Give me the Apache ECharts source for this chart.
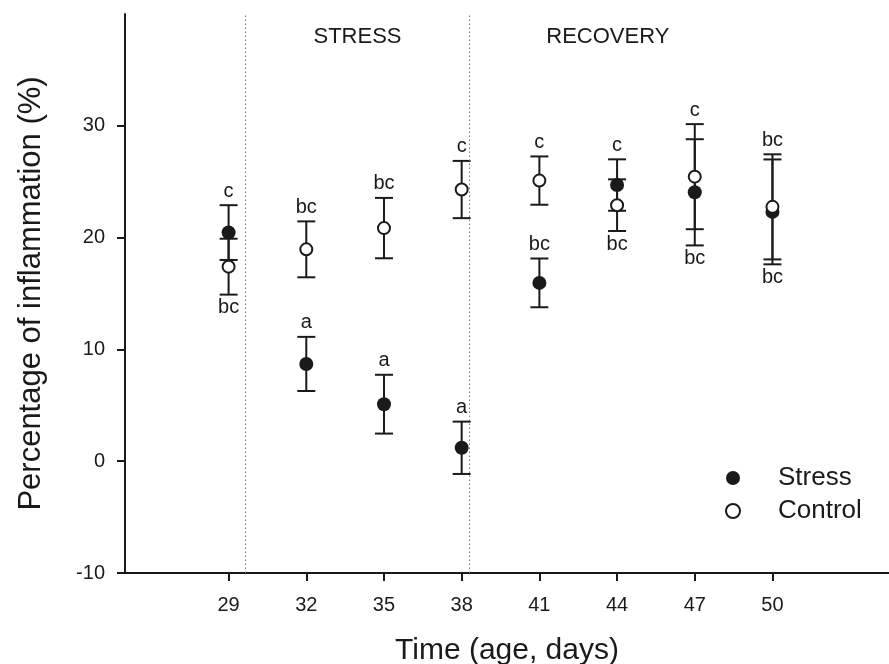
<!DOCTYPE html>
<html>
<head>
<meta charset="utf-8">
<script src="https://cdn.jsdelivr.net/npm/echarts@6/dist/echarts.min.js"></script>
<style>html,body{margin:0;padding:0;background:#fff;}#chart{width:889px;height:664px;}</style>
</head>
<body>
<div id="chart"></div>
<script>
// ---- data ----
var days = [29, 32, 35, 38, 41, 44, 47, 50];
var stressMean = [20.45, 8.7, 5.1, 1.2, 15.95, 24.7, 24.05, 22.3];
var stressSE   = [2.45, 2.42, 2.63, 2.34, 2.18, 2.3, 4.75, 4.69];
var controlMean = [17.4, 18.95, 20.85, 24.3, 25.1, 22.9, 25.45, 22.75];
var controlSE   = [2.5, 2.5, 2.7, 2.56, 2.16, 2.31, 4.7, 4.7];
var stressLetters = ['c', 'a', 'a', 'a', 'bc', 'c', 'bc', 'bc'];
var stressLetterSide = ['above', 'above', 'above', 'above', 'above', 'above', 'below', 'below'];
var controlLetters = ['bc', 'bc', 'bc', 'c', 'c', 'bc', 'c', 'bc'];
var controlLetterSide = ['below', 'above', 'above', 'above', 'above', 'below', 'above', 'above'];
var yTicks = [-10, 0, 10, 20, 30];
var phaseBoundaries = [29.65, 38.3];
var phaseNames = ['STRESS', 'RECOVERY'];
var seriesNames = ['Stress', 'Control'];

var FONT = '"Liberation Sans", Arial, Helvetica, sans-serif';
var INK = '#1a1a1a';

function pairs(mean) { return days.map(function (d, i) { return [d, mean[i]]; }); }
function errData(mean, se) { return days.map(function (d, i) { return [d, mean[i] - se[i], mean[i] + se[i]]; }); }

function makeErrRender(letters, sides) {
  return function (params, api) {
    var x = api.value(0), lo = api.value(1), hi = api.value(2);
    var pLo = api.coord([x, lo]), pHi = api.coord([x, hi]);
    var hw = 9;
    var st = { stroke: INK, lineWidth: 2 };
    var i = params.dataIndex;
    var above = sides[i] === 'above';
    return {
      type: 'group',
      children: [
        { type: 'line', shape: { x1: pLo[0], y1: pLo[1], x2: pHi[0], y2: pHi[1] }, style: st },
        { type: 'line', shape: { x1: pLo[0] - hw, y1: pLo[1], x2: pLo[0] + hw, y2: pLo[1] }, style: st },
        { type: 'line', shape: { x1: pHi[0] - hw, y1: pHi[1], x2: pHi[0] + hw, y2: pHi[1] }, style: st },
        { type: 'text', x: pHi[0], y: above ? pHi[1] - 4 : pLo[1] + 3,
          style: { text: letters[i], fill: INK, font: '20px ' + FONT, align: 'center', verticalAlign: above ? 'bottom' : 'top' } }
      ]
    };
  };
}

var chart = echarts.init(document.getElementById('chart'), null, { renderer: 'canvas' });
chart.setOption({
  animation: false,
  backgroundColor: '#fff',
  textStyle: { fontFamily: FONT, color: INK },
  grid: { left: 125, right: 0, top: 14, bottom: 91, containLabel: false, outerBoundsMode: 'none' },
  xAxis: {
    type: 'value', min: 25, max: 54.5,
    name: 'Time (age, days)', nameLocation: 'middle', nameGap: 63,
    nameTextStyle: { fontSize: 30, color: INK, fontFamily: FONT },
    axisLine: { show: true, onZero: false, lineStyle: { color: INK, width: 2 } },
    axisTick: { show: true, length: 8, customValues: days, lineStyle: { color: INK, width: 2 } },
    axisLabel: { customValues: days, fontSize: 20, margin: 22, color: INK, fontFamily: FONT },
    splitLine: { show: false }
  },
  yAxis: {
    type: 'value', min: -10, max: 40,
    name: 'Percentage of inflammation (%)', nameLocation: 'middle', nameGap: 78, nameRotate: 90,
    nameTextStyle: { fontSize: 31, color: INK, fontFamily: FONT },
    axisLine: { show: true, onZero: false, lineStyle: { color: INK, width: 2 } },
    axisTick: { show: true, length: 8, customValues: yTicks, lineStyle: { color: INK, width: 2 } },
    axisLabel: { customValues: yTicks, fontSize: 20, margin: 20, color: INK, fontFamily: FONT },
    splitLine: { show: false }
  },
  legend: {
    data: seriesNames, orient: 'vertical', left: 720, top: 460,
    itemWidth: 80, itemHeight: 14, itemGap: 7,
    textStyle: { fontSize: 26, color: INK, fontFamily: FONT }
  },
  graphic: [
    { type: 'text', x: 357.5, y: 37, style: { text: phaseNames[0], font: '22px ' + FONT, fill: INK, align: 'center', verticalAlign: 'middle' } },
    { type: 'text', x: 607.8, y: 37, style: { text: phaseNames[1], font: '22px ' + FONT, fill: INK, align: 'center', verticalAlign: 'middle' } }
  ],
  series: [
    {
      type: 'custom', name: 'stressErr', z: 1, silent: true,
      renderItem: makeErrRender(stressLetters, stressLetterSide),
      data: errData(stressMean, stressSE),
      markLine: {
        silent: true, symbol: 'none', label: { show: false },
        lineStyle: { color: '#777', width: 1, type: [1.5, 2.5] },
        data: phaseBoundaries.map(function (v) { return { xAxis: v }; })
      }
    },
    {
      type: 'custom', name: 'controlErr', z: 1, silent: true,
      renderItem: makeErrRender(controlLetters, controlLetterSide),
      data: errData(controlMean, controlSE)
    },
    {
      type: 'scatter', name: seriesNames[0], z: 3,
      symbol: 'circle', symbolSize: 14,
      itemStyle: { color: INK, opacity: 1 },
      data: pairs(stressMean)
    },
    {
      type: 'scatter', name: seriesNames[1], z: 4,
      symbol: 'circle', symbolSize: 12,
      itemStyle: { color: '#fff', borderColor: INK, borderWidth: 2, opacity: 1 },
      data: pairs(controlMean)
    }
  ]
});
</script>
</body>
</html>
